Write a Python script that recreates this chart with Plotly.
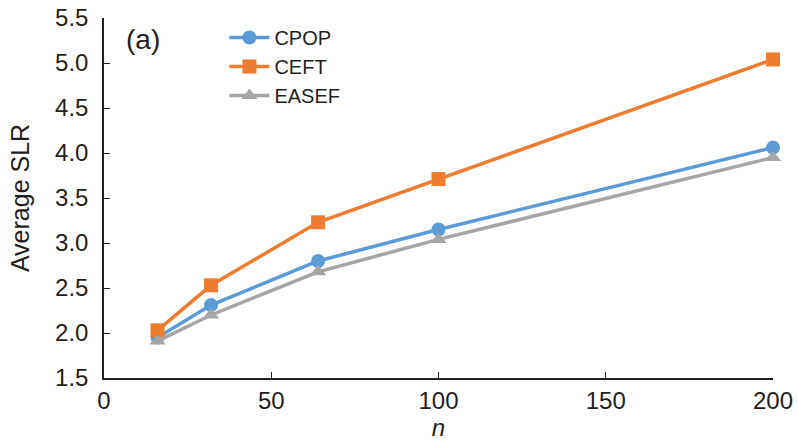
import plotly.graph_objects as go

n_values = [16, 32, 64, 100, 200]
cpop = [1.95, 2.31, 2.80, 3.15, 4.06]
ceft = [2.03, 2.53, 3.23, 3.71, 5.04]
easef = [1.91, 2.20, 2.68, 3.04, 3.95]

x_ticks = [0, 50, 100, 150, 200]
y_ticks = [1.5, 2.0, 2.5, 3.0, 3.5, 4.0, 4.5, 5.0, 5.5]

font = "Liberation Sans, Arial, sans-serif"
text_color = "#231f20"

fig = go.Figure()
series = [
    ("CPOP", cpop, "#5b9bd5", "circle"),
    ("CEFT", ceft, "#ed7d31", "square"),
    ("EASEF", easef, "#a5a5a5", "triangle-up"),
]
for name, vals, color, sym in series:
    fig.add_trace(go.Scatter(
        x=n_values, y=vals, name=name, mode="lines+markers",
        line=dict(color=color, width=3.5),
        marker=dict(color=color, symbol=sym, size=14),
        cliponaxis=False,
    ))

fig.update_layout(
    width=798, height=444,
    margin=dict(l=104, r=25, t=18, b=66),
    paper_bgcolor="white", plot_bgcolor="white",
    font=dict(family=font, color=text_color, size=24),
    legend=dict(x=0.18, y=1.0, xanchor="left", yanchor="top",
                font=dict(size=20, family=font, color=text_color),
                bgcolor="rgba(0,0,0,0)", tracegroupgap=0, itemwidth=40),
    showlegend=True,
)
fig.update_xaxes(
    range=[0, 200], tickvals=x_ticks, ticks="inside", ticklen=6,
    showline=True, linecolor=text_color, linewidth=1.5, tickcolor=text_color,
    showgrid=False, zeroline=False, automargin=False,
    title=dict(text="<i>n</i>", font=dict(size=24), standoff=0),
    tickfont=dict(size=24),
)
fig.update_yaxes(
    range=[1.5, 5.5], tickvals=y_ticks, ticktext=[f"{v:.1f}" for v in y_ticks],
    ticks="inside", ticklen=6, ticklabelstandoff=9,
    showline=True, linecolor=text_color, linewidth=1.5, tickcolor=text_color,
    showgrid=False, zeroline=False, automargin=False,
    title=dict(text="Average SLR", font=dict(size=25), standoff=18),
    tickfont=dict(size=24),
)
fig.add_annotation(text="(a)", x=0.03, y=0.99, xref="paper", yref="paper",
                   xanchor="left", yanchor="top", showarrow=False,
                   font=dict(size=28, family=font, color=text_color))

fig.write_html("out.html")
